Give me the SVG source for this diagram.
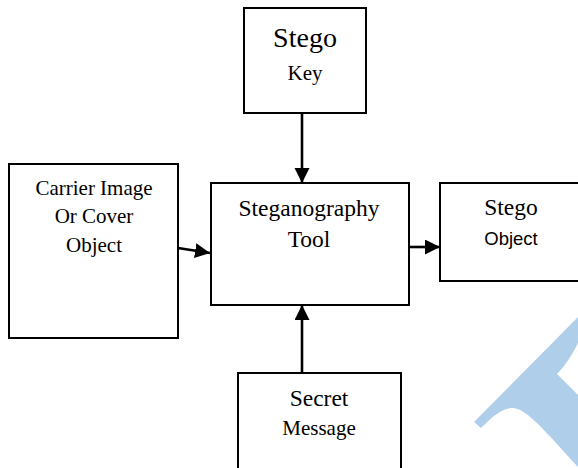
<svg xmlns="http://www.w3.org/2000/svg" width="578" height="468" viewBox="0 0 578 468">
<style>
.box{fill:#ffffff;stroke:#000000;stroke-width:2}
.serif{font-family:"Liberation Serif","Times New Roman",serif;fill:#000;text-anchor:middle}
.sans{font-family:"Liberation Sans",Arial,sans-serif;fill:#000;text-anchor:middle}
.conn{stroke:#000;stroke-width:2.6;fill:none;marker-end:url(#ah)}
</style>
<defs>
<marker id="ah" markerUnits="userSpaceOnUse" markerWidth="16" markerHeight="16" refX="15" refY="7.5" orient="auto" viewBox="0 0 16 16">
<path d="M0,0 L15,7.5 L0,15 z" fill="#000"/>
</marker>
</defs>
<rect width="578" height="468" fill="#ffffff"/>
<path id="watermark" d="M578,317 L474,422 L481,428 C495,413 505,408 512,408 C525,408 540,425 578,467 L578,395 L557,374 C565,366 572,355 578,343 Z" fill="#afceea"/>
<g id="connectors">
<line class="conn" x1="302" y1="113" x2="302" y2="183"/>
<line class="conn" x1="178" y1="248" x2="210" y2="253"/>
<line class="conn" x1="409" y1="247" x2="440" y2="247"/>
<line class="conn" x1="302" y1="373" x2="302" y2="305"/>
</g>
<g id="stego-key">
<rect class="box" x="244" y="8" width="122" height="105"/>
<text class="serif" x="305" y="47" font-size="28">Stego</text>
<text class="serif" x="305" y="80" font-size="21">Key</text>
</g>
<g id="carrier">
<rect class="box" x="9" y="164" width="169" height="174"/>
<text class="serif" x="94" y="195" font-size="21">Carrier Image</text>
<text class="serif" x="94" y="223" font-size="21">Or Cover</text>
<text class="serif" x="94" y="252" font-size="21">Object</text>
</g>
<g id="steg-tool">
<rect class="box" x="211" y="183" width="198" height="122"/>
<text class="serif" x="309" y="216" font-size="23.5">Steganography</text>
<text class="serif" x="309" y="247" font-size="23.5">Tool</text>
</g>
<g id="stego-object">
<rect class="box" x="440" y="183" width="145" height="98"/>
<text class="serif" x="511" y="215" font-size="23.5">Stego</text>
<text class="sans" x="511" y="245" font-size="18.5">Object</text>
</g>
<g id="secret-message">
<rect class="box" x="238" y="373" width="163" height="105"/>
<text class="serif" x="319" y="406" font-size="23.5">Secret</text>
<text class="serif" x="319" y="435" font-size="21">Message</text>
</g>
</svg>
